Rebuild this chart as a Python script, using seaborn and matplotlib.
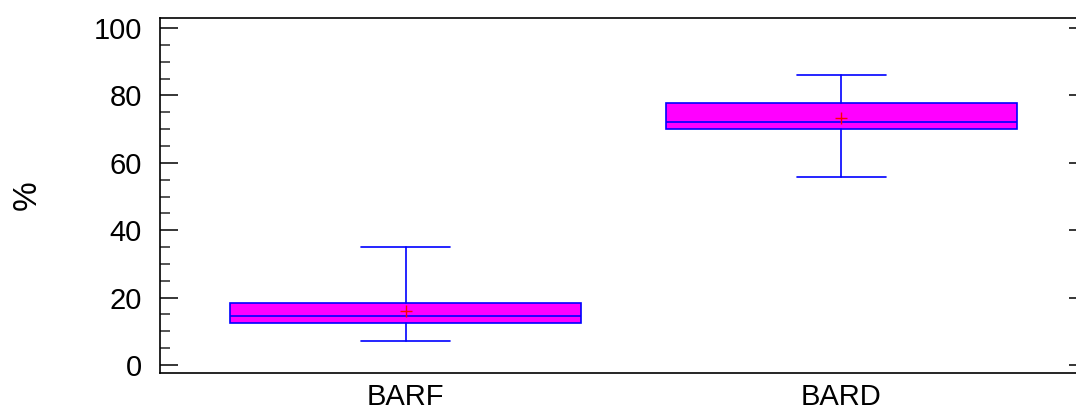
import numpy as np
import matplotlib
matplotlib.use("Agg")
import matplotlib.pyplot as plt
import seaborn as sns
from matplotlib.ticker import MultipleLocator

# values
groups = ["BARF", "BARD"]
whisker_low = [7.2, 55.9]
q1 = [12.4, 69.9]
median = [14.6, 72.2]
q3 = [18.3, 77.9]
whisker_high = [35.1, 86.1]
means = [16.0, 73.3]

sns.set_theme(style="ticks")
plt.rcParams['font.family'] = ['Liberation Sans', 'DejaVu Sans']
plt.rcParams['text.color'] = 'black'
plt.rcParams['axes.labelcolor'] = 'black'

stats = []
for i, g in enumerate(groups):
    stats.append({
        "label": g, "whislo": whisker_low[i], "q1": q1[i], "med": median[i],
        "q3": q3[i], "whishi": whisker_high[i], "mean": means[i], "fliers": [],
    })

fig = plt.figure(figsize=(10.76, 4.09), dpi=100)
ax = fig.add_axes([0.1487, 0.088, 0.8615, 0.868])

blue = "#0000FF"
lw = 1.2
ax.bxp(stats, positions=range(len(groups)), widths=0.805, capwidths=0.204,
       showmeans=True, patch_artist=True, showfliers=False,
       boxprops=dict(facecolor="#FF00FF", edgecolor=blue, linewidth=lw),
       medianprops=dict(color=blue, linewidth=lw),
       whiskerprops=dict(color=blue, linewidth=lw),
       capprops=dict(color=blue, linewidth=lw),
       meanprops=dict(marker="+", markeredgecolor="red", markersize=9,
                      markeredgewidth=1.0))

ax.set_xlim(-0.564, 1.564)
ax.set_ylim(-2.4, 103)
ax.yaxis.set_major_locator(MultipleLocator(20))
ax.yaxis.set_minor_locator(MultipleLocator(5))
ax.tick_params(axis="y", which="major", direction="in", length=13, width=1.1,
               labelsize=21, right=True, pad=13, colors="black")
ax.tick_params(axis="y", which="minor", direction="in", length=7.2, width=1.1,
               left=True, right=False)
ax.tick_params(axis="x", which="both", length=0, labelsize=21, pad=7,
               labelcolor="black")
for side in ["left", "top", "bottom", "right"]:
    ax.spines[side].set_linewidth(1.2)
    ax.spines[side].set_color("black")
ax.set_ylabel("%", fontsize=24)
ax.yaxis.set_label_coords(-0.126, 0.5)

fig.savefig("out.png", dpi=100)
